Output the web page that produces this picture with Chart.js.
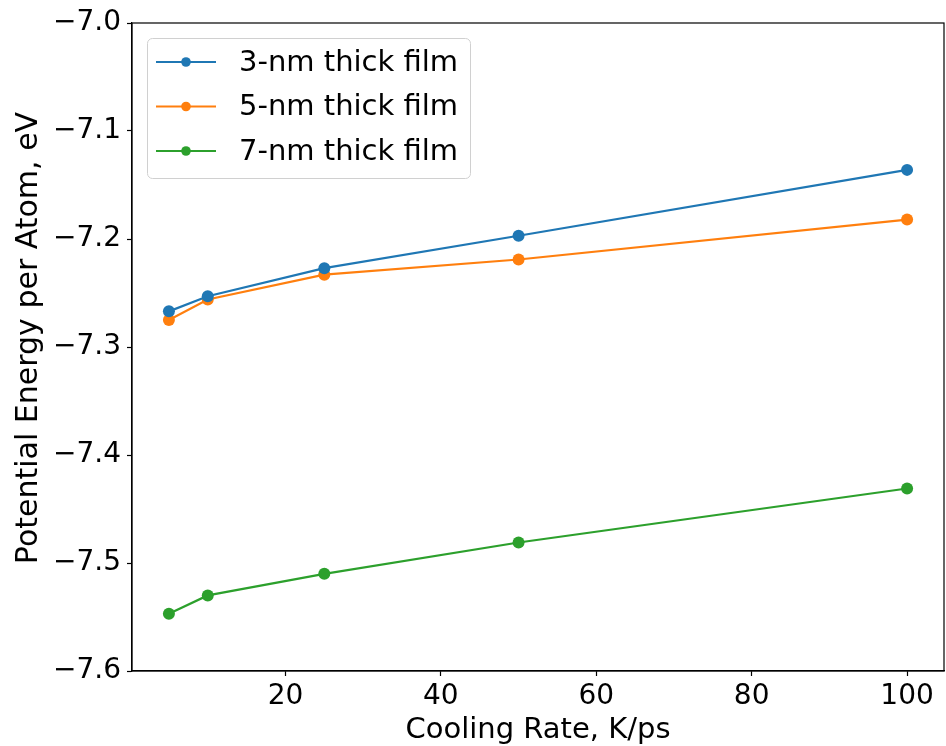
<!DOCTYPE html>
<html>
<head>
<meta charset="utf-8">
<script src="https://cdn.jsdelivr.net/npm/chart.js@4.4.1/dist/chart.umd.min.js"></script>
<style>
  body { margin: 0; background: #fff; }
  #wrap { width: 946px; height: 746px; }
</style>
</head>
<body>
<div id="wrap"><canvas id="myChart" width="946" height="746"></canvas></div>
<script>
const coolingRates = [5, 10, 25, 50, 100];
const film3 = [-7.267, -7.253, -7.227, -7.197, -7.136];
const film5 = [-7.275, -7.256, -7.233, -7.219, -7.182];
const film7 = [-7.547, -7.530, -7.510, -7.481, -7.431];
const seriesNames = ['3-nm thick film', '5-nm thick film', '7-nm thick film'];
const seriesColors = ['#1f77b4', '#ff7f0e', '#2ca02c'];
const xTicks = [20, 40, 60, 80, 100];
const yTicks = [-7.6, -7.5, -7.4, -7.3, -7.2, -7.1, -7.0];
const yTitle = 'Potential Energy per Atom, eV';

Chart.defaults.font.family = 'DejaVu Sans';
Chart.defaults.color = '#000';

function makeSet(name, values, color) {
  return {
    label: name,
    data: coolingRates.map((x, i) => ({ x: x, y: values[i] })),
    borderColor: color,
    backgroundColor: color,
    borderWidth: 2.2,
    pointRadius: 6,
    pointHoverRadius: 6,
    pointBorderWidth: 0,
    tension: 0
  };
}

// matplotlib-like legend box, full frame and y title
const frameAndLegend = {
  id: 'frameAndLegend',
  afterDraw(chart) {
    const ctx = chart.ctx;
    const a = chart.chartArea;
    ctx.save();
    ctx.strokeStyle = '#000';
    ctx.lineWidth = 1.2;
    ctx.strokeRect(a.left, a.top, a.right - a.left, a.bottom - a.top);

    // y title
    ctx.save();
    ctx.translate(36.5, 338);
    ctx.rotate(-Math.PI / 2);
    ctx.font = '30px "DejaVu Sans"';
    ctx.textAlign = 'center';
    ctx.textBaseline = 'alphabetic';
    ctx.fillStyle = '#000';
    ctx.fillText(yTitle, 0, 0);
    ctx.restore();

    // legend
    const bx = 147, by = 38, bw = 323, bh = 140, r = 5;
    ctx.beginPath();
    ctx.roundRect(bx + 0.5, by + 0.5, bw, bh, r);
    ctx.fillStyle = 'rgba(255,255,255,0.8)';
    ctx.fill();
    ctx.strokeStyle = '#d0d0d0';
    ctx.lineWidth = 1;
    ctx.stroke();

    ctx.font = '29px "DejaVu Sans"';
    ctx.textBaseline = 'middle';
    ctx.textAlign = 'left';
    chart.data.datasets.forEach((ds, i) => {
      const y = 62 + i * 44.5;
      ctx.strokeStyle = ds.borderColor;
      ctx.lineWidth = 2.2;
      ctx.beginPath();
      ctx.moveTo(156, y);
      ctx.lineTo(216, y);
      ctx.stroke();
      ctx.fillStyle = ds.backgroundColor;
      ctx.beginPath();
      ctx.arc(186, y, 4.8, 0, Math.PI * 2);
      ctx.fill();
      ctx.fillStyle = '#000';
      ctx.fillText(ds.label, 239, y + 1);
    });
    ctx.restore();
  }
};

const options = {
  type: 'scatter',
  data: {
    datasets: [
      makeSet(seriesNames[0], film3, seriesColors[0]),
      makeSet(seriesNames[1], film5, seriesColors[1]),
      makeSet(seriesNames[2], film7, seriesColors[2])
    ]
  },
  options: {
    responsive: false,
    animation: false,
    showLine: true,
    layout: { autoPadding: false, padding: { left: 0, right: 2, top: 23, bottom: 0 } },
    plugins: {
      legend: { display: false },
      tooltip: { enabled: false }
    },
    scales: {
      x: {
        type: 'linear',
        min: 0.25,
        max: 104.75,
        afterBuildTicks: (scale) => { scale.ticks = xTicks.map(v => ({ value: v })); },
        afterFit: (scale) => {
          scale.height = 75;
          scale.paddingLeft = 0;
          scale.paddingRight = 0;
        },
        ticks: {
          font: { size: 28 },
          padding: 4,
          maxRotation: 0,
          callback: (v) => String(v)
        },
        grid: { drawOnChartArea: false, drawTicks: true, tickLength: 5, tickColor: '#000', tickWidth: 1.2 },
        border: { display: true, color: '#000', width: 1.2 },
        title: {
          display: true,
          text: 'Cooling Rate, K/ps',
          font: { size: 29, lineHeight: 1.1 },
          padding: { top: 0, bottom: 0 }
        }
      },
      y: {
        type: 'linear',
        min: -7.6,
        max: -7.0,
        afterBuildTicks: (scale) => { scale.ticks = yTicks.map(v => ({ value: v })); },
        afterFit: (scale) => { scale.width = 132; },
        ticks: {
          font: { size: 28 },
          padding: 6,
          callback: (v) => '\u2212' + Math.abs(v).toFixed(1)
        },
        grid: { drawOnChartArea: false, drawTicks: true, tickLength: 5, tickColor: '#000', tickWidth: 1.2 },
        border: { display: true, color: '#000', width: 1.2 },
        title: { display: false }
      }
    }
  },
  plugins: [frameAndLegend]
};

const ctx = document.getElementById('myChart').getContext('2d');
new Chart(ctx, options);
</script>
</body>
</html>
